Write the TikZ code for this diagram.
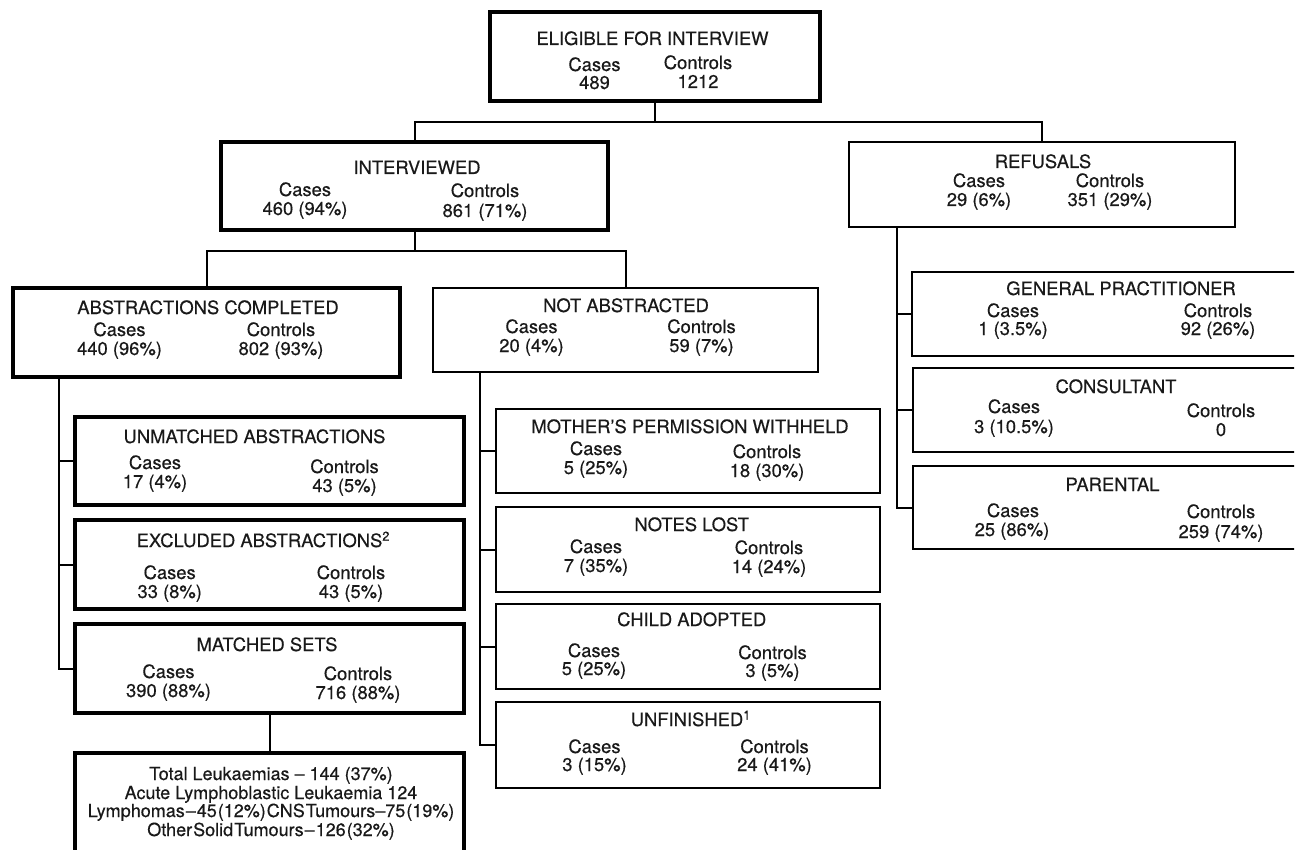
\documentclass[tikz,border=0pt]{standalone}
\usepackage{fontspec}
\setmainfont[FakeBold=0.4,AutoFakeBold=0.4]{TeX Gyre Heros}
\tikzset{
  thickbox/.style={draw, line width=3.6pt, inner sep=0pt, outer sep=0pt, anchor=north west},
  thinbox/.style={draw, line width=2pt, inner sep=0pt, outer sep=0pt, anchor=north west},
  conn/.style={line width=2pt},
  txt/.style={anchor=base, inner sep=0pt, text=black!90, font=\fontsize{18.4}{19}\selectfont\bfseries},
  btxt/.style={txt, font=\fontsize{18}{19}\selectfont\bfseries}
}
\newcommand\mkbox[6]{\node[#2, minimum width={(#5-#3)*1pt}, minimum height={(#6-#4)*1pt}] (#1) at (#3,#4) {};}
\newcommand\tl[4]{\node[txt] (#1) at (#2,#3) {#4};}
\begin{document}
\begin{tikzpicture}[x=1pt,y=-1pt]
\useasboundingbox (0,0) rectangle (1300,850);
\clip (0,0) rectangle (1294,850);
% boxes
\mkbox{top}{thickbox}{490}{12}{820}{101}
\mkbox{interv}{thickbox}{221}{142}{608}{230}
\mkbox{refus}{thinbox}{849}{142}{1235}{227}
\mkbox{gp}{thinbox}{912}{272}{1310}{356}
\mkbox{cons}{thinbox}{913}{368}{1310}{452}
\mkbox{par}{thinbox}{913}{466}{1310}{549}
\mkbox{abst}{thickbox}{13}{288}{400}{377}
\mkbox{notabs}{thinbox}{433}{288}{818}{372}
\mkbox{unm}{thickbox}{75}{417}{464}{505}
\mkbox{exc}{thickbox}{75}{520}{464}{609}
\mkbox{mat}{thickbox}{75}{624}{464}{713}
\mkbox{sub}{thickbox}{75}{753}{464}{880}
\mkbox{moth}{thinbox}{496}{409}{880}{493}
\mkbox{notes}{thinbox}{496}{507}{880}{592}
\mkbox{child}{thinbox}{496}{604}{880}{689}
\mkbox{unf}{thinbox}{496}{702}{880}{788}
% connector helpers
\coordinate (j1) at (655,122);
\coordinate (j2) at (415,251);
\coordinate (rsx) at (897,0);
\coordinate (lsx) at (59,0);
\coordinate (msx) at (480,0);
\draw[conn] (top.south) -- (j1);
\draw[conn] (interv.north -| j2) |- (j1) -| (refus.north);
\draw[conn] (interv.south -| j2) -- (j2);
\draw[conn] (abst.north) |- (j2) -| (notabs.north);
\draw[conn] (refus.south -| rsx) |- (par.west);
\draw[conn] (gp.west -| rsx) -- (gp.west);
\draw[conn] (cons.west -| rsx) -- (cons.west);
\draw[conn] (abst.south -| lsx) |- (mat.west);
\draw[conn] (unm.west -| lsx) -- (unm.west);
\draw[conn] (exc.west -| lsx) -- (exc.west);
\draw[conn] (notabs.south -| msx) |- (unf.west);
\draw[conn] (moth.west -| msx) -- (moth.west);
\draw[conn] (notes.west -| msx) -- (notes.west);
\draw[conn] (child.west -| msx) -- (child.west);
\draw[conn] (mat.south) -- (sub.north);
% texts
\tl{topT}{652.5}{45}{ELIGIBLE FOR INTERVIEW}
\tl{topC}{594.5}{71}{Cases}
\tl{topCv}{594.5}{89}{489}
\tl{topK}{698}{69}{Controls}
\tl{topKv}{698}{88}{1212}

\tl{intT}{417}{174}{INTERVIEWED}
\tl{intC}{305}{196}{Cases}
\tl{intCv}{305}{215}{460 (94\%)}
\tl{intK}{485}{197}{Controls}
\tl{intKv}{485}{217}{861 (71\%)}

\tl{refT}{1043}{168}{REFUSALS}
\tl{refC}{979}{187}{Cases}
\tl{refCv}{979}{206}{29 (6\%)}
\tl{refK}{1110}{187}{Controls}
\tl{refKv}{1110}{206}{351 (29\%)}

\tl{gpT}{1121}{295}{GENERAL PRACTITIONER}
\tl{gpC}{1013}{317}{Cases}
\tl{gpCv}{1013}{335}{1 (3.5\%)}
\tl{gpK}{1218}{317}{Controls}
\tl{gpKv}{1218}{335}{92 (26\%)}

\tl{conT}{1116}{393}{CONSULTANT}
\tl{conC}{1014}{413}{Cases}
\tl{conCv}{1014}{433}{3 (10.5\%)}
\tl{conK}{1221}{417}{Controls}
\tl{conKv}{1221}{436}{0}

\tl{parT}{1112.5}{491}{PARENTAL}
\tl{parC}{1013}{517}{Cases}
\tl{parCv}{1012}{536}{25 (86\%)}
\tl{parK}{1221}{518}{Controls}
\tl{parKv}{1221}{538}{259 (74\%)}

\tl{absT}{208}{314}{ABSTRACTIONS COMPLETED}
\tl{absC}{119.5}{336}{Cases}
\tl{absCv}{119.5}{355}{440 (96\%)}
\tl{absK}{281}{336}{Controls}
\tl{absKv}{281}{355}{802 (93\%)}

\tl{naT}{626}{312}{NOT ABSTRACTED}
\tl{naC}{531.5}{333}{Cases}
\tl{naCv}{531.5}{352}{20 (4\%)}
\tl{naK}{701.5}{333}{Controls}
\tl{naKv}{701.5}{352}{59 (7\%)}

\tl{unT}{254.5}{443}{UNMATCHED ABSTRACTIONS}
\tl{unC}{155}{469}{Cases}
\tl{unCv}{155}{488}{17 (4\%)}
\tl{unK}{344.5}{473}{Controls}
\tl{unKv}{344.5}{492}{43 (5\%)}

\tl{exT}{259.5}{547}{EXCLUDED ABSTRACTIONS\rlap{\textsuperscript{2}}}
\tl{exC}{169.7}{579}{Cases}
\tl{exCv}{169.7}{598}{33 (8\%)}
\tl{exK}{351}{579}{Controls}
\tl{exKv}{351}{598}{43 (5\%)}

\tl{maT}{267}{651}{MATCHED SETS}
\tl{maC}{168.5}{678}{Cases}
\tl{maCv}{168.5}{697}{390 (88\%)}
\tl{maK}{358}{680}{Controls}
\tl{maKv}{358}{699}{716 (88\%)}

\tl{moT}{690}{433}{MOTHER’S PERMISSION WITHHELD}
\tl{moC}{596}{455}{Cases}
\tl{moCv}{596}{474}{5 (25\%)}
\tl{moK}{767}{458}{Controls}
\tl{moKv}{767}{477}{18 (30\%)}

\tl{noT}{691.7}{531}{NOTES LOST}
\tl{noC}{596}{553}{Cases}
\tl{noCv}{596}{572}{7 (35\%)}
\tl{noK}{769}{554}{Controls}
\tl{noKv}{769}{573}{14 (24\%)}

\tl{chT}{691.7}{626}{CHILD ADOPTED}
\tl{chC}{594}{657}{Cases}
\tl{chCv}{594}{675}{5 (25\%)}
\tl{chK}{772.5}{659}{Controls}
\tl{chKv}{772.5}{677}{3 (5\%)}

\tl{ufT}{687}{726}{UNFINISHED\rlap{\textsuperscript{1}}}
\tl{ufC}{594.5}{753}{Cases}
\tl{ufCv}{594.5}{771}{3 (15\%)}
\tl{ufK}{774.5}{753}{Controls}
\tl{ufKv}{774.5}{771}{24 (41\%)}

\node[btxt] (s1) at (271,780) {Total Leukaemias – 144 (37\%)};
\node[btxt] (s2) at (271,799) {Acute Lymphoblastic Leukaemia 124};
\node[btxt] (s3) at (271,817) {Lymphomas\kern1pt–\kern1pt45\kern1pt(12\%)\kern1pt CNS\kern1pt Tumours–75\kern1pt(19\%)};
\node[btxt] (s4) at (271,836) {Other\kern1pt Solid\kern1pt Tumours\kern1pt–\kern1pt126\kern1pt(32\%)};
\end{tikzpicture}
\end{document}
